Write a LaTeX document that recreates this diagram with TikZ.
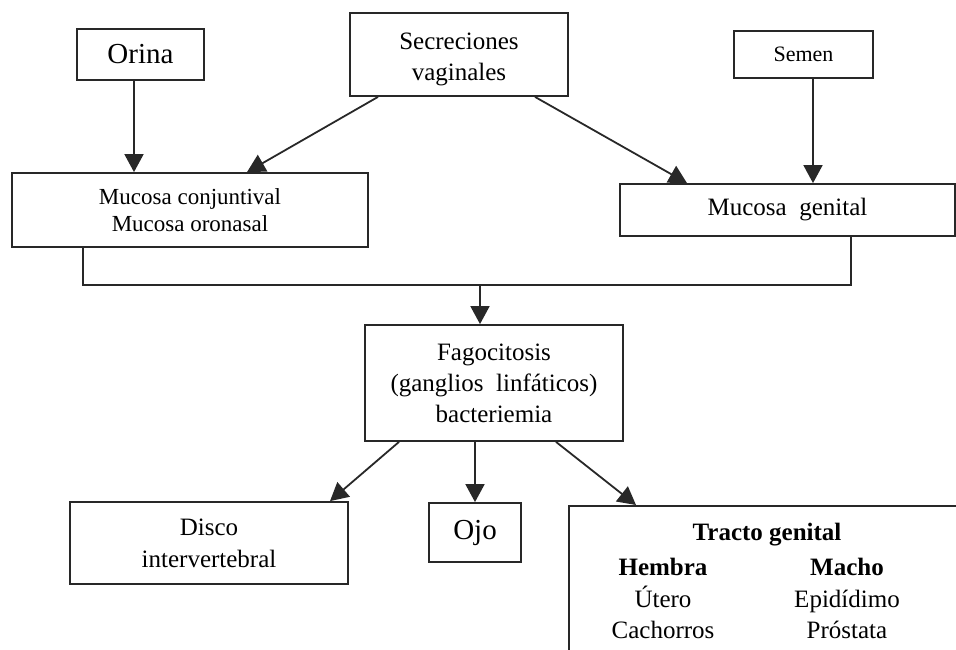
\documentclass[tikz,border=0pt]{standalone}
\usepackage{fontspec}
\setmainfont{Liberation Serif}
\usepackage{tikz}
\usetikzlibrary{positioning, arrows.meta}
\definecolor{boxline}{RGB}{40, 40, 40}

\begin{document}
\begin{tikzpicture}[
  x=1pt, y=-1pt,
  every node/.style={font=\fontsize{25}{31}\selectfont},
  box/.style={rectangle, draw=boxline, line width=1.8pt, align=center, inner sep=0pt},
  arrow/.style={-{Triangle[length=18pt, width=19pt]}, line width=1.8pt, draw=boxline},
  link/.style={line width=1.8pt, draw=boxline}
]
  \useasboundingbox (0,0) rectangle (956,650);
  \clip (0,0) rectangle (956,650);

  % Top row: sources
  \node[box, minimum width=127pt, minimum height=51pt, font=\fontsize{29}{34}\selectfont] (orina) at (140.5,54.5) {Orina};
  \node[box, minimum width=218pt, minimum height=83pt, font=\fontsize{25}{31}\selectfont] (secre) at (459,54.5) {\rule{0pt}{27pt}Secreciones\\vaginales};
  \node[box, minimum width=139pt, minimum height=47pt, font=\fontsize{22}{26}\selectfont] (semen) at (803.5,54.5) {Semen};

  % Second row: entry mucosae
  \node[box, minimum width=356pt, minimum height=74pt, font=\fontsize{23}{27}\selectfont] (mucconj) at (190,210) {Mucosa conjuntival\\Mucosa oronasal};
  \node[box, minimum width=335pt, minimum height=52pt] (mucgen) at (787.5,210) {Mucosa\ \ genital};

  % Middle: spread
  \coordinate (join) at (480,285);
  \node[box, minimum width=258pt, minimum height=116pt] (fago) at (494,383) {Fagocitosis\\(ganglios\ \ linfáticos)\\bacteriemia};

  % Bottom row: targets
  \node[box, minimum width=278pt, minimum height=82pt, font=\fontsize{25}{32}\selectfont] (disco) at (209,543) {Disco\\intervertebral};
  \node[box, minimum width=92pt, minimum height=59pt, font=\fontsize{29}{34}\selectfont] (ojo) at (475,532.5) {Ojo};
  \node[box, anchor=north west, minimum width=400pt, minimum height=200pt] (tracto) at (568,505) {};
  \node[anchor=base, font=\fontsize{25}{31}\selectfont\bfseries] (tractotit) at (767,540) {Tracto genital};
  \node[anchor=base, font=\fontsize{25}{31}\selectfont\bfseries] (hembra) at (663,575) {Hembra};
  \node[anchor=base, font=\fontsize{25}{31}\selectfont\bfseries] (macho) at (847,575) {Macho};
  \node[anchor=base] (utero) at (663,607) {Útero};
  \node[anchor=base] (cachorros) at (663,638) {Cachorros};
  \node[anchor=base] (epididimo) at (847,607) {Epidídimo};
  \node[anchor=base] (prostata) at (847,638) {Próstata};

  % Arrows
  \draw[arrow] ([xshift=-6.5pt]orina.south) -- ([xshift=-6.5pt]orina.south |- mucconj.north);
  \draw[arrow] ([xshift=-81pt]secre.south) -- ([xshift=57pt]mucconj.north);
  \draw[arrow] ([xshift=76pt]secre.south) -- ([xshift=-100.5pt]mucgen.north);
  \draw[arrow] ([xshift=9.5pt]semen.south) -- ([xshift=9.5pt]semen.south |- mucgen.north);
  \draw[link] ([xshift=-107pt]mucconj.south) |- (join) -| ([xshift=63.5pt]mucgen.south);
  \draw[arrow] (join) -- (join |- fago.north);
  \draw[arrow] ([xshift=-95pt]fago.south) -- ([xshift=121pt]disco.north);
  \draw[arrow] ([xshift=-19pt]fago.south) -- (ojo.north);
  \draw[arrow] ([xshift=62pt]fago.south) -- ([xshift=68pt]tracto.north west);

\end{tikzpicture}
\end{document}
